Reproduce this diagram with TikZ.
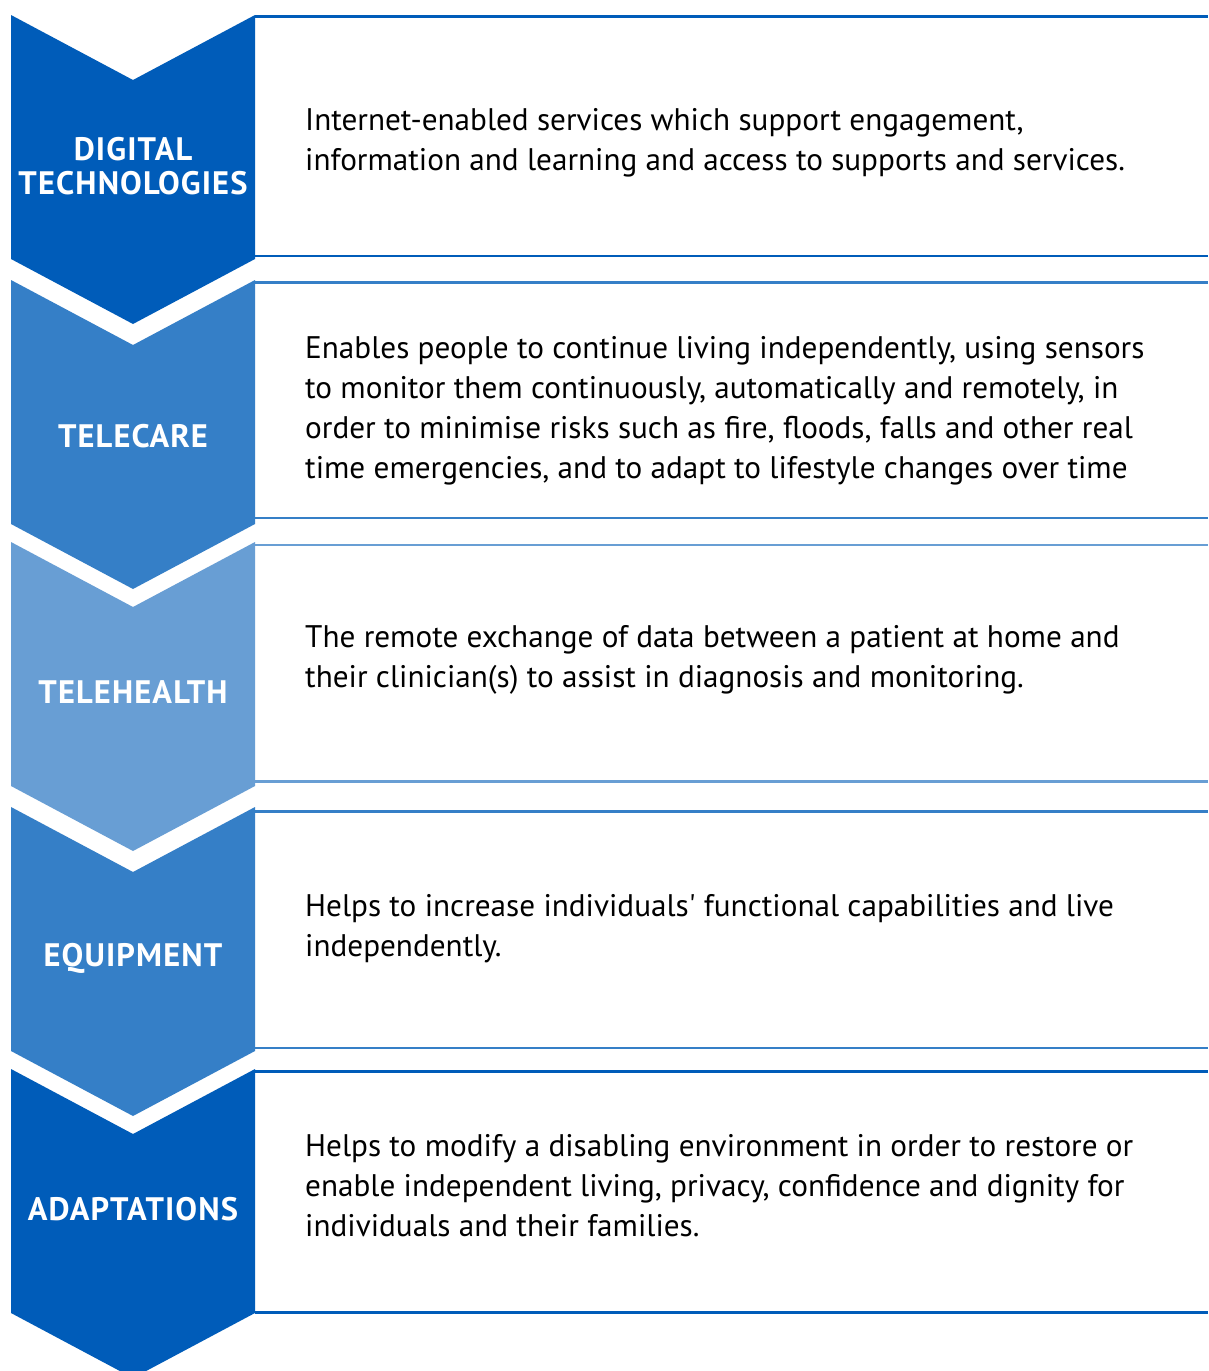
\documentclass[tikz,border=0pt]{standalone}
\usepackage{fontspec}
\setmainfont{PT Sans}
\definecolor{cdark}{HTML}{005CB9}
\definecolor{cmed}{HTML}{357FC7}
\definecolor{clight}{HTML}{689ED4}
\tikzset{
  desc/.style={anchor=base west, inner sep=0pt, text=black},
  lab/.style={anchor=base, inner sep=0pt, text=white},
  rule/.style={line width=2.6pt},
}
\newcommand\straightapos{\XeTeXglyph\XeTeXcharglyph"0027\relax}
\newcommand\desctext[1]{\parbox[t]{890pt}{\fontsize{31.2}{40}\selectfont\raggedright #1}}
\newcommand\labtext[1]{\parbox[t]{260pt}{\fontsize{32.5}{34.5}\selectfont\bfseries\addfontfeature{LetterSpace=3.5}\centering #1}}
\begin{document}
\begin{tikzpicture}[x=1pt,y=-1pt]
\useasboundingbox (0,0) rectangle (1208,1371);
\clip (0,0) rectangle (1208,1371);
\fill[white] (0,0) rectangle (1208,1371);
% chevrons
\foreach \t/\c in {15/cdark,280/cmed,542/clight,807/cmed,1069/cdark}{
  \fill[\c] (11,\t) -- (133,{\t+65}) -- (255,\t) -- (255,{\t+244}) -- (133,{\t+309}) -- (11,{\t+244}) -- cycle;
}
% rules
\foreach \a/\b/\c in {16.5/256/cdark,282.5/518/cmed,545/781.5/clight,811.5/1048/cmed,1071.5/1312.5/cdark}{
  \draw[rule,\c] (255,\a) -- (1208,\a);
  \draw[rule,\c] (255,\b) -- (1208,\b);
}
% labels
\node[lab] (l1) at (133,160) {\labtext{DIGITAL\\TECHNOLOGIES}};
\node[lab] (l2) at (133,447) {\labtext{TELECARE}};
\node[lab] (l3) at (133,703) {\labtext{TELEHEALTH}};
\node[lab] (l4) at (133,966) {\labtext{EQUIPMENT}};
\node[lab] (l5) at (133,1220) {\labtext{ADAPTATIONS}};
% descriptions
\node[desc] (d1) at (305,130) {\desctext{Internet-enabled services which support engagement,\\information and learning and access to supports and services.}};
\node[desc] (d2) at (305,358) {\desctext{Enables people to continue living independently, using sensors\\to monitor them continuously, automatically and remotely, in\\order to minimise risks such as fire, floods, falls and other real\\time emergencies, and to adapt to lifestyle changes over time}};
\node[desc] (d3) at (305,647) {\desctext{The remote exchange of data between a patient at home and\\their clinician(s) to assist in diagnosis and monitoring.}};
\node[desc] (d4) at (305,916) {\desctext{Helps to increase individuals\straightapos\ functional capabilities and live\\independently.}};
\node[desc] (d5) at (305,1156) {\desctext{Helps to modify a disabling environment in order to restore or\\enable independent living, privacy, confidence and dignity for\\individuals and their families.}};
\end{tikzpicture}
\end{document}
